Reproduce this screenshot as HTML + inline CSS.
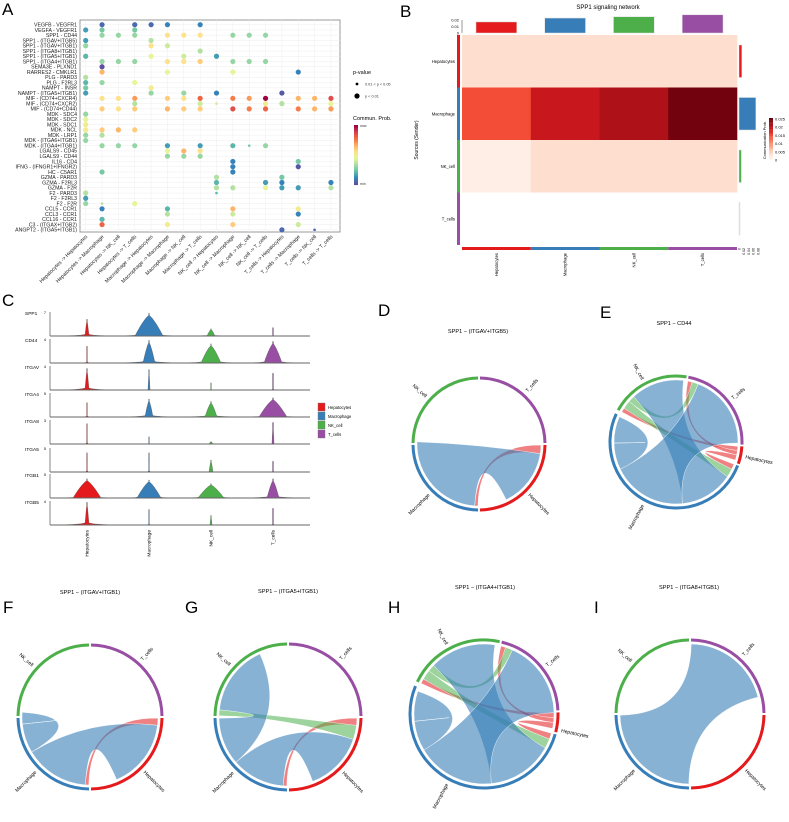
<!DOCTYPE html>
<html><head><meta charset="utf-8"><style>
html,body{margin:0;padding:0;background:#fff;}
svg{display:block;font-family:"Liberation Sans",sans-serif;}
</style></head><body>
<svg id="fig" width="789" height="822" viewBox="0 0 789 822" xmlns="http://www.w3.org/2000/svg">
<text x="2" y="15" font-size="17">A</text>
<text x="400" y="17" font-size="17">B</text>
<text x="2" y="306" font-size="17">C</text>
<text x="378" y="316" font-size="17">D</text>
<text x="600" y="318" font-size="17">E</text>
<text x="3" y="613" font-size="17">F</text>
<text x="185" y="613" font-size="17">G</text>
<text x="388" y="613" font-size="17">H</text>
<text x="594" y="613" font-size="17">I</text>
</svg>
<script>
// ---------- Panel A data ----------
const aRows = ["VEGFB - VEGFR1","VEGFA - VEGFR1","SPP1 - CD44","SPP1 - (ITGAV+ITGB5)","SPP1 - (ITGAV+ITGB1)","SPP1 - (ITGA8+ITGB1)","SPP1 - (ITGA5+ITGB1)","SPP1 - (ITGA4+ITGB1)","SEMA3E - PLXND1","RARRES2 - CMKLR1","PLG - PARD3","PLG - F2RL3","NAMPT - INSR","NAMPT - (ITGA5+ITGB1)","MIF - (CD74+CXCR4)","MIF - (CD74+CXCR2)","MIF - (CD74+CD44)","MDK - SDC4","MDK - SDC2","MDK - SDC1","MDK - NCL","MDK - LRP1","MDK - (ITGA6+ITGB1)","MDK - (ITGA4+ITGB1)","LGALS9 - CD45","LGALS9 - CD44","IL16 - CD4","IFNG - (IFNGR1+IFNGR2)","HC - C5AR1","GZMA - PARD3","GZMA - F2RL3","GZMA - F2R","F2 - PARD3","F2 - F2RL3","F2 - F2R","CCL5 - CCR1","CCL3 - CCR1","CCL16 - CCR1","C3 - (ITGAX+ITGB2)","ANGPT2 - (ITGA5+ITGB1)"];
const aCols = ["Hepatocytes -> Hepatocytes","Hepatocytes -> Macrophage","Hepatocytes -> NK_cell","Hepatocytes -> T_cells","Macrophage -> Hepatocytes","Macrophage -> Macrophage","Macrophage -> NK_cell","Macrophage -> T_cells","NK_cell -> Hepatocytes","NK_cell -> Macrophage","NK_cell -> NK_cell","NK_cell -> T_cells","T_cells -> Hepatocytes","T_cells -> Macrophage","T_cells -> NK_cell","T_cells -> T_cells"];
// each dot: [row, col, prob(0..1), significant(1) or weak(0)]
const aDots = [
[0,1,.05,1],[0,3,.05,1],[0,4,.05,1],[0,5,.1,1],[0,7,.1,1],
[1,0,.15,1],[1,1,.25,1],[1,3,.25,1],
[2,1,.3,1],[2,2,.3,1],[2,3,.3,1],[2,5,.55,1],[2,6,.55,1],[2,7,.55,1],[2,9,.3,1],[2,10,.3,1],[2,11,.3,1],
[3,0,.15,1],[3,4,.35,1],
[4,0,.3,1],[4,4,.55,1],[4,5,.4,1],
[5,7,.35,1],
[6,0,.2,1],[6,4,.45,1],[6,6,.4,1],[6,8,.15,1],
[7,1,.3,1],[7,2,.3,1],[7,3,.3,1],[7,5,.55,1],[7,6,.55,1],[7,7,.6,1],[7,9,.3,1],[7,10,.3,1],[7,11,.3,1],
[8,1,0,1],
[9,1,.65,1],[9,5,.45,1],[9,9,.45,1],[9,13,.1,1],
[10,0,.35,1],
[11,0,.2,1],[11,1,.3,1],[11,3,.45,1],
[12,0,.25,1],[12,4,.5,1],
[13,0,.15,1],[13,4,.3,1],[13,6,.3,1],[13,8,.1,1],[13,12,.02,1],
[14,1,.55,1],[14,2,.55,1],[14,3,.7,1],[14,5,.6,1],[14,6,.55,1],[14,7,.8,1],[14,9,.75,1],[14,10,.7,1],[14,11,1,1],[14,13,.65,1],[14,14,.65,1],[14,15,.85,1],
[15,3,.35,1],[15,7,.4,1],[15,8,.4,0],[15,11,.5,1],[15,12,.35,1],[15,15,.45,1],
[16,1,.6,1],[16,2,.55,1],[16,3,.6,1],[16,5,.65,1],[16,6,.6,1],[16,7,.6,1],[16,9,.85,1],[16,10,.75,1],[16,11,.8,1],[16,13,.75,1],[16,14,.65,1],[16,15,.7,1],
[17,0,.3,1],[18,0,.45,1],[19,0,.5,1],
[20,0,.5,1],[20,1,.6,1],[20,2,.65,1],[20,3,.6,1],
[21,0,.3,1],[21,1,.35,1],[22,0,.3,1],
[23,1,.3,1],[23,2,.3,1],[23,3,.3,1],[23,5,.15,1],[23,7,.15,1],[23,9,.2,1],[23,10,.25,0],[23,11,.3,1],
[24,5,.45,1],[24,6,.65,1],[24,7,.55,1],
[25,5,.3,1],[25,6,.3,1],[25,7,.3,1],
[26,9,.1,1],[26,13,.25,1],
[27,9,.1,1],[27,13,.02,1],
[28,1,.25,1],[28,9,.1,1],
[29,8,.35,1],[29,12,.25,1],
[30,8,.2,1],[30,11,.15,1],[30,12,.1,1],[30,15,.1,1],
[31,8,.35,1],[31,9,.35,1],[31,11,.45,1],[31,12,.15,1],[31,13,.15,1],[31,15,.35,1],
[32,0,.35,1],[32,8,.2,0],[33,0,.15,1],
[34,0,.3,1],[34,1,.35,0],[34,3,.45,1],
[35,1,.1,1],[35,5,.2,1],[35,9,.65,1],[35,13,.5,1],
[36,5,.35,1],[36,9,.4,1],[36,13,.1,1],
[37,1,.2,1],
[38,1,.8,1],[38,5,.5,1],[38,9,.6,1],[38,13,.4,1],
[39,12,.05,1],[39,14,.05,0]
];
// ---------- Panel B data ----------
const bGroups = ["Hepatocytes","Macrophage","NK_cell","T_cells"];
const bMatrix = [
 [.003,.003,.003,.003],
 [.013,.017,.019,.022],
 [.001,.003,.003,.003],
 [0,0,0,0]
];
const bTopTicks = [0,0.01,0.02];
const bRightTicks = [0,0.02,0.04,0.06,0.08];
const bLegendTicks = [0,0.005,0.01,0.015,0.02,0.025];
// ---------- Panel C data ----------
const cGenes = ["SPP1","CD44","ITGAV","ITGA4","ITGA8","ITGA5","ITGB1","ITGB5"];
const cMax = [7,4,4,5,3,5,5,4];
// [heightFraction, tailHalfWidth, bodyHalfWidth] per gene x group
const cViolin = [
 [[.7,28,2],[.95,30,14],[.3,25,4],[.35,2,0]],
 [[.7,3,0],[.95,30,6],[.8,30,10],[.9,28,9]],
 [[.9,25,2],[.85,2,1],[.3,2,0],[.7,2,0]],
 [[.6,3,0],[.75,28,4],[.65,30,6],[.8,28,14]],
 [[.85,2,0],[.3,2,0],[.1,3,2],[.9,2,1]],
 [[.8,2,0],[.8,2,0],[.5,3,2],[.45,2,0]],
 [[.8,28,14],[.75,28,12],[.6,30,13],[.8,28,6]],
 [[.95,28,2],[.65,2,0],[.4,3,1],[.7,2,0]]
];
// ---------- Chord data (sector order: NK_cell, T_cells, Hepatocytes, Macrophage) ----------
const chordNames = ["NK_cell","T_cells","Hepatocytes","Macrophage"];
const sizesEqual = [90,90,90,90];
const sizesE = [72,83,17,186];
const sizesH = [78,75,17,188];
const linksD = [[2,3,8,3],[3,2,88,55]];
const linksE = [[2,0,4,4],[2,1,4,4],[2,3,5,5],[0,3,8,8],[0,1,6,6],[3,0,50,50],[3,1,70,70],[3,3,25,25]];
const linksF = [[2,3,6,3],[3,2,55,60],[3,3,25,10]];
const linksG = [[2,3,6,3],[0,2,5,12],[3,2,45,50],[3,0,40,60]];
const linksH = [[2,0,4,4],[2,1,4,4],[2,3,5,5],[0,3,8,8],[0,1,6,6],[3,0,55,55],[3,1,65,65],[3,3,25,25]];
const linksI = [[3,1,88,75]];

const NS="http://www.w3.org/2000/svg";
const svg=document.getElementById('fig');
function mk(tag,attrs,parent){const e=document.createElementNS(NS,tag);for(const k in attrs)e.setAttribute(k,attrs[k]);(parent||svg).appendChild(e);return e;}
const cellCol=["#e41a1c","#377eb8","#4daf4a","#984ea3"]; // Hep, Mac, NK, T
const spectral=["#5e4fa2","#3288bd","#66c2a5","#abdda4","#e6f598","#fee08b","#fdae61","#f46d43","#d53e4f","#9e0142"];
function hex(c){return [parseInt(c.substr(1,2),16),parseInt(c.substr(3,2),16),parseInt(c.substr(5,2),16)];}
function interp(stops,t){t=Math.max(0,Math.min(1,t));const n=stops.length-1;const i=Math.min(n-1,Math.floor(t*n));const f=t*n-i;const a=hex(stops[i]),b=hex(stops[i+1]);return "rgb("+a.map((v,k)=>Math.round(v+(b[k]-v)*f)).join(",")+")";}

// ================= Panel A =================
(function(){
 const x0=80,x1=340,y0=20,y1=232;
 const xs=c=>85.7+c*16.35, ys=r=>24.7+r*5.26;
 const g=mk('g',{});
 
 
 const bg=mk('rect',{x:x0,y:y0,width:x1-x0,height:y1-y0,fill:"#fff",stroke:"#999","stroke-width":1},g);
 
 
 aRows.forEach((r,i)=>{
  const gl=mk('line',{x1:x0,x2:x1,y1:ys(i),y2:ys(i),stroke:"#eee","stroke-width":0.5},g);
  
  
  const t=mk('text',{x:77,y:ys(i)+1.8,"font-size":5.2,"text-anchor":"end",fill:"#222"},g);
  t.textContent=r;
  
  
 });
 aCols.forEach((c,j)=>{
  const gl=mk('line',{x1:xs(j),x2:xs(j),y1:y0,y2:y1,stroke:"#eee","stroke-width":0.5},g);
  
  
  const t=mk('text',{x:0,y:0,"font-size":5.2,"text-anchor":"end",fill:"#222",transform:`translate(${xs(j)+2},${y1+5}) rotate(-45)`},g);
  t.textContent=c;
  
  
 });
 aDots.forEach(d=>{
  const c=mk('circle',{cx:xs(d[1]),cy:ys(d[0]),r:d[3]?2.6:1.3,fill:interp(spectral,d[2])},g);
  
  
 });
 const lt=mk('text',{x:353,y:74,"font-size":5.5},g);lt.textContent="p-value";
 
 
 const c1=mk('circle',{cx:357,cy:84,r:1.4,fill:"#000"},g);
 
 
 const t1=mk('text',{x:365,y:85.5,"font-size":3.8,fill:"#333"},g);t1.textContent="0.01 < p < 0.05";
 
 
 const c2=mk('circle',{cx:357,cy:96,r:2.6,fill:"#000"},g);
 
 
 const t2=mk('text',{x:365,y:97.5,"font-size":3.8,fill:"#333"},g);t2.textContent="p < 0.01";
 
 
 const ct=mk('text',{x:353,y:120,"font-size":5.5},g);ct.textContent="Commun. Prob.";
 
 
 const N=40;for(let i=0;i<N;i++){const r=mk('rect',{x:354,y:125+i*1.5,width:4,height:1.6,fill:interp(spectral,1-i/(N-1))},g);
  
  }
 const mx=mk('text',{x:360,y:127,"font-size":3.5,fill:"#333"},g);mx.textContent="max";
 
 
 const mn=mk('text',{x:360,y:185,"font-size":3.5,fill:"#333"},g);mn.textContent="min";
 
 
})();

// ================= Panel B =================
(function(){
 const g=mk('g',{});
 
 
 const hx0=462,hx1=737,hy0=35,hy1=245;
 const cw=(hx1-hx0)/4, rh=(hy1-hy0)/4;
 const vmax=0.0225;
 const reds=["#fff5f0","#fee0d2","#fcbba1","#fc9272","#fb6a4a","#ef3b2c","#cb181d","#a50f15","#67000d"];
 const title=mk('text',{x:608,y:9,"font-size":6,"text-anchor":"middle"},g);title.textContent="SPP1 signaling network";
 
 
 bMatrix.forEach((row,i)=>row.forEach((v,j)=>{
  const r=mk('rect',{x:hx0+j*cw,y:hy0+i*rh,width:cw+0.3,height:rh+0.3,fill:v>0?interp(reds,v/vmax):"#ffffff"},g);
  
  
 }));
 const topScale=v=>v/0.02*13;
 bGroups.forEach((gname,j)=>{
  let s=0;bMatrix.forEach(r=>s+=r[j]);
  const h=topScale(s);
  const r=mk('rect',{x:hx0+j*cw+14,y:33-h,width:cw-28,height:h,fill:cellCol[j],stroke:"#ddd","stroke-width":0.5},g);
  
  
  const ls=mk('rect',{x:457,y:hy0+j*rh,width:3,height:rh,fill:cellCol[j]},g);
  
  
  const bs=mk('rect',{x:hx0+j*cw,y:247,width:cw,height:3,fill:cellCol[j]},g);
  
  
  const rl=mk('text',{x:455,y:hy0+j*rh+rh/2+1.5,"font-size":4.2,"text-anchor":"end"},g);rl.textContent=gname;
  
  
  const cl=mk('text',{x:0,y:0,"font-size":4.2,"text-anchor":"end",transform:`translate(${hx0+j*cw+cw/2+1.5},253) rotate(-90)`},g);cl.textContent=gname;
  
  
  const rs=bMatrix[j].reduce((a,b)=>a+b,0);
  const w=Math.max(1,rs/0.08*19);
  const rb=mk('rect',{x:739,y:hy0+j*rh+10,width:w,height:rh-20,fill:rs>0?cellCol[j]:"#e8d6ea",stroke:"#ddd","stroke-width":0.5},g);
  
  
 });
 const ax=mk('line',{x1:462,x2:462,y1:20,y2:33,stroke:"#333","stroke-width":0.5},g);
 
 
 bTopTicks.forEach(v=>{const t=mk('text',{x:459,y:33-topScale(v)+1.5,"font-size":4,"text-anchor":"end"},g);t.textContent=v;
  
  });
 bRightTicks.forEach(v=>{const t=mk('text',{x:0,y:0,"font-size":3.5,"text-anchor":"end",transform:`translate(${739+v/0.08*19+1.3},248) rotate(-90)`},g);t.textContent=v;
  
  });
 const yl=mk('text',{x:0,y:0,"font-size":5,"text-anchor":"middle",transform:"translate(418,140) rotate(-90)"},g);yl.textContent="Sources (Sender)";
 
 
 for(let i=0;i<30;i++){const r=mk('rect',{x:769,y:118+i*1.4,width:4,height:1.5,fill:interp(reds,1-i/29)},g);
  
  }
 bLegendTicks.forEach(v=>{const t=mk('text',{x:775,y:160-v/0.025*41+1.5,"font-size":4},g);t.textContent=v;
  
  });
 const lt=mk('text',{x:0,y:0,"font-size":4,"text-anchor":"middle",transform:"translate(766,140) rotate(-90)"},g);lt.textContent="Communication Prob.";
 
 
})();

// ================= Panel C =================
(function(){
 const g=mk('g',{});
 
 
 const base=[336,363,390,417,444,472,498,525];
 const cx=[87,149,211,273];
 const rowH=24;
 cGenes.forEach((gene,i)=>{
  const by=base[i];
  const ax=mk('line',{x1:50,x2:50,y1:by-rowH,y2:by,stroke:"#333","stroke-width":0.6},g);
  
  
  const t=mk('text',{x:25,y:by-rowH+3,"font-size":4.8},g);t.textContent=gene;
  
  
  const m=mk('text',{x:46,y:by-rowH+2,"font-size":3.8,"text-anchor":"end"},g);m.textContent=cMax[i];
  
  
  cViolin[i].forEach((p,j)=>{
   const h=p[0]*rowH, tail=p[1], body=p[2];
   const N=40;const right=[],left=[];
   for(let k=0;k<=N;k++){const t=k/N;const y=by-t*h;
    let w=Math.max(tail*Math.exp(-t/0.035),body*Math.pow(Math.max(0,1-t/0.9),0.75),0.35);
    if(k===N) w=0.2;
    right.push([cx[j]+w,y]);left.unshift([cx[j]-w,y]);}
   const d="M"+right.concat(left).map(q=>q[0].toFixed(1)+","+q[1].toFixed(1)).join("L")+"Z";
   const v=mk('path',{d:d,fill:cellCol[j],stroke:"#444","stroke-width":0.35},g);
   
   
  });
  const bl=mk('line',{x1:50,x2:310,y1:by,y2:by,stroke:"#666","stroke-width":1},g);
  
  
 });
 ["Hepatocytes","Macrophage","NK_cell","T_cells"].forEach((n,j)=>{
  const t=mk('text',{x:0,y:0,"font-size":4.8,"text-anchor":"end",transform:`translate(${cx[j]+1.6},530) rotate(-90)`},g);t.textContent=n;
  
  
  const r=mk('rect',{x:318,y:403+j*9,width:7,height:8,fill:cellCol[j],stroke:"#777","stroke-width":0.4},g);
  
  
  const lt=mk('text',{x:328,y:409+j*9,"font-size":4.2},g);lt.textContent=n;
  
  
 });
})();

// ================= Chord panels =================
const secColor=["#4daf4a","#984ea3","#e41a1c","#377eb8"];
function chord(name,title,tx,ty,cx,cy,r,start,sizes,links,labAng){
 const g=mk('g',{});
 
 
 const tt=mk('text',{x:tx,y:ty,"font-size":5.6,"text-anchor":"middle"},g);tt.textContent=title;
 
 
 const P=(a,R)=>[cx+R*Math.cos(a*Math.PI/180),cy-R*Math.sin(a*Math.PI/180)];
 const secStart=[];let a=start;
 sizes.forEach((s)=>{secStart.push(a);a-=s;});
 sizes.forEach((s,i)=>{
  const a1=secStart[i]-0.8,a2=secStart[i]-s+0.8;
  const p1=P(a1,r),p2=P(a2,r);
  const arc=mk('path',{d:`M${p1[0]},${p1[1]}A${r},${r} 0 ${s>180?1:0} 1 ${p2[0]},${p2[1]}`,fill:"none",stroke:secColor[i],"stroke-width":3},g);
  
  
 });
 const cur=sizes.map(()=>1);
 const R0=r-4;
 links.forEach(l=>{
  const [s,t,sw,tw]=l;
  const a1=secStart[s]-cur[s], a2=a1-sw; cur[s]+=sw;
  const b1=secStart[t]-cur[t], b2=b1-tw; cur[t]+=tw;
  const p1=P(a1,R0),p2=P(a2,R0),q1=P(b1,R0),q2=P(b2,R0);
  const d=`M${p1[0]},${p1[1]}A${R0},${R0} 0 ${sw>180?1:0} 1 ${p2[0]},${p2[1]}Q${cx},${cy} ${q1[0]},${q1[1]}A${R0},${R0} 0 ${tw>180?1:0} 1 ${q2[0]},${q2[1]}Q${cx},${cy} ${p1[0]},${p1[1]}Z`;
  const rb=mk('path',{d:d,fill:secColor[s],"fill-opacity":s===3?0.6:0.55,stroke:"#fff","stroke-width":0.4},g);
  
  
 });
 chordNames.forEach((n,i)=>{
  const ang=labAng[i];const p=P(ang,r+5);
  const left=Math.cos(ang*Math.PI/180)<0;
  const rot=left?(-ang+180):(-ang);
  const t=mk('text',{x:0,y:0,"font-size":5,"text-anchor":left?"end":"start",transform:`translate(${p[0]},${p[1]}) rotate(${rot}) translate(0,1.7)`},g);
  t.textContent=n;
  
  
 });
}
chord('chord-d',"SPP1 − (ITGAV+ITGB5)",478,333,479,444,66,180,sizesEqual,linksD,[138,48,-45,-135]);
chord('chord-e',"SPP1 − CD44",674,325,676,442,66,152,sizesE,linksE,[118,38,-12,-118]);
chord('chord-f',"SPP1 − (ITGAV+ITGB1)",90,594,90,717,72,180,sizesEqual,linksF,[138,48,-45,-135]);
chord('chord-g',"SPP1 − (ITGA5+ITGB1)",288,593,288,717,73,180,sizesEqual,linksG,[138,48,-45,-135]);
chord('chord-h',"SPP1 − (ITGA4+ITGB1)",485,589,484,714,74,155,sizesH,linksH,[118,38,-12,-118]);
chord('chord-i',"SPP1 − (ITGA8+ITGB1)",689,589,690,714,74,180,sizesEqual,linksI,[138,48,-45,-135]);
</script>
</body></html>
